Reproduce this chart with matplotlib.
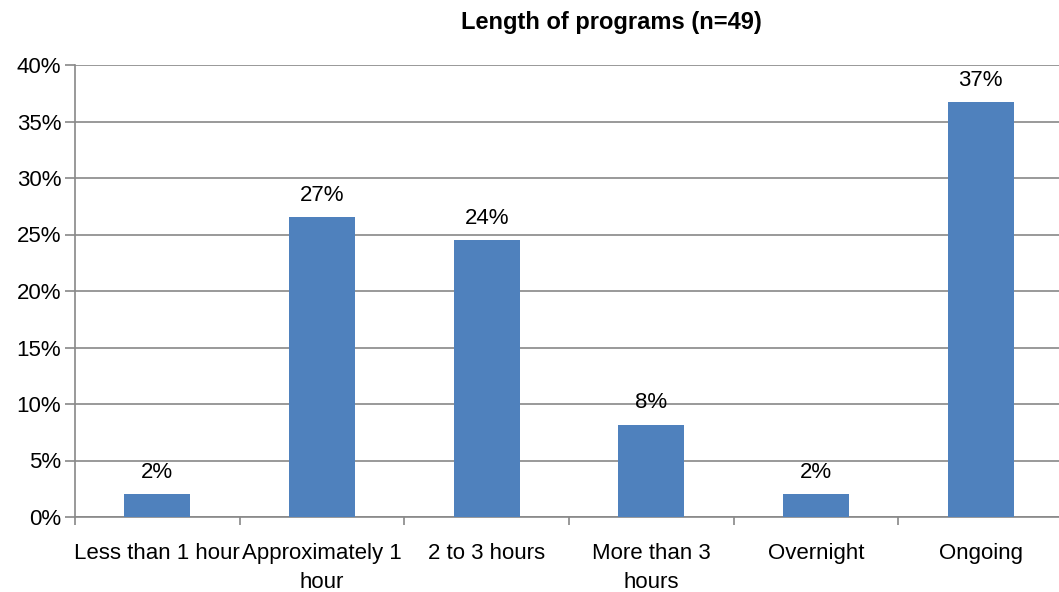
import matplotlib.pyplot as plt
from matplotlib import font_manager

categories = ['Less than 1 hour', 'Approximately 1\nhour', '2 to 3 hours',
              'More than 3\nhours', 'Overnight', 'Ongoing']
counts = [1, 13, 12, 4, 1, 18]
n_total = 49
values = [c / n_total * 100 for c in counts]
labels = ['2%', '27%', '24%', '8%', '2%', '37%']

names = {f.name for f in font_manager.fontManager.ttflist}
font = 'Liberation Sans Narrow' if 'Liberation Sans Narrow' in names else 'Liberation Sans'
plt.rcParams['font.family'] = [font, 'DejaVu Sans']

fig = plt.figure(figsize=(10.59, 5.92), dpi=100)
ax = fig.add_axes([75 / 1059, 1 - 517 / 592, 988 / 1059, 452 / 592])

x = list(range(len(categories)))
ax.bar(x, values, width=0.4, color='#4F81BD', zorder=3)
for xi, v, lab in zip(x, values, labels):
    ax.text(xi, v + 1.0, lab, ha='center', va='bottom', fontsize=16)

ax.set_xlim(-0.5, len(categories) - 0.5)
ax.set_ylim(0, 40)
ax.set_yticks(range(0, 41, 5))
ax.set_yticklabels([f'{t}%' for t in range(0, 41, 5)], fontsize=16)
ax.set_xticks(x)
ax.set_xticklabels(categories, fontsize=16, linespacing=1.5)
ax.set_xticks([i - 0.5 for i in range(len(categories) + 1)], minor=True)
ax.tick_params(axis='x', which='major', length=0, pad=19)
ax.tick_params(axis='x', which='minor', length=6, color='#888888', width=1.2)
ax.tick_params(axis='y', length=7, color='#888888', width=1.2, pad=3)
ax.grid(axis='y', color='#888888', linewidth=1.2, zorder=0)

for s in ['top', 'right']:
    ax.spines[s].set_visible(False)
for s in ['left', 'bottom']:
    ax.spines[s].set_color('#888888')
    ax.spines[s].set_linewidth(1.2)

fig.text(611 / 1059, 1 - 22 / 592, 'Length of programs (n=49)', ha='center', va='center',
         fontsize=17, fontweight='bold')

fig.savefig('out.png', dpi=100)
